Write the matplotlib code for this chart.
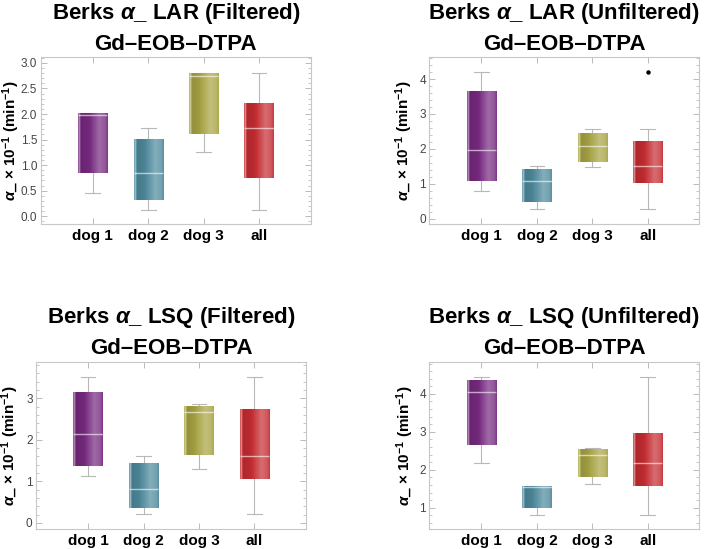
import numpy as np
import matplotlib as mpl
mpl.use('Agg')
from matplotlib import pyplot as plt
from matplotlib.ticker import MultipleLocator
from matplotlib.colors import to_rgb

plt.rcParams['font.family'] = ['Liberation Sans', 'DejaVu Sans']
plt.rcParams['mathtext.fontset'] = 'custom'
plt.rcParams['mathtext.rm'] = 'Liberation Sans:bold'
plt.rcParams['mathtext.it'] = 'Liberation Sans:bold:italic'
plt.rcParams['mathtext.bf'] = 'Liberation Sans:bold'

# categories and colours
groups = ['dog 1', 'dog 2', 'dog 3', 'all']
colors = ['#772a80', '#4f8a9c', '#a8a445', '#c52d32']

# box stats per group: [whisker low, q1, median, q3, whisker high]
lar_filtered = [[0.46, 0.84, 1.98, 2.01, 2.01],
                [0.13, 0.31, 0.84, 1.50, 1.72],
                [1.25, 1.61, 2.75, 2.80, 2.80],
                [0.13, 0.75, 1.72, 2.20, 2.81]]
lar_unfiltered = [[0.80, 1.08, 1.97, 3.64, 4.21],
                  [0.27, 0.47, 1.07, 1.40, 1.51],
                  [1.49, 1.63, 2.07, 2.45, 2.58],
                  [0.27, 1.01, 1.52, 2.19, 2.58]]
lar_unfiltered_fliers = [[], [], [], [4.20]]
lsq_filtered = [[1.12, 1.38, 2.13, 3.15, 3.50],
                [0.21, 0.36, 0.81, 1.42, 1.61],
                [1.29, 1.64, 2.66, 2.81, 2.85],
                [0.21, 1.05, 1.61, 2.71, 3.50]]
lsq_unfiltered = [[2.17, 2.64, 4.04, 4.35, 4.45],
                  [0.82, 1.00, 1.55, 1.57, 1.57],
                  [1.62, 1.81, 2.40, 2.53, 2.57],
                  [0.82, 1.56, 2.18, 2.94, 4.45]]

# title, stats, fliers, axes rect, ylim, major step, minor step, ylabel x
panels = [
    ('Berks $\\alpha$_ LAR (Filtered)', lar_filtered, None,
     [0.0577, 0.5914, 0.383, 0.3042], (-0.16, 3.11), 0.5, 0.1, -0.071),
    ('Berks $\\alpha$_ LAR (Unfiltered)', lar_unfiltered, lar_unfiltered_fliers,
     [0.609, 0.5914, 0.383, 0.3042], (-0.163, 4.625), 1.0, 0.2, -0.053),
    ('Berks $\\alpha$_ LSQ (Filtered)', lsq_filtered, None,
     [0.0511, 0.0359, 0.383, 0.3053], (-0.152, 3.88), 1.0, 0.2, -0.056),
    ('Berks $\\alpha$_ LSQ (Unfiltered)', lsq_unfiltered, None,
     [0.609, 0.0359, 0.383, 0.3053], (0.43, 4.85), 1.0, 0.2, -0.05),
]

# horizontal shading profile to fake the cylinder look
prof_t = [0, 0.04, 0.07, 0.10, 0.35, 0.72, 0.92, 1.0]
prof_m = [0.10, 0.55, 0.15, -0.12, -0.05, 0.30, 0.20, 0.05]


def shaded(color, n=80):
    base = np.array(to_rgb(color))
    m = np.interp(np.linspace(0, 1, n), prof_t, prof_m)
    rows = []
    for v in m:
        if v >= 0:
            rows.append(base + (1 - base) * v)
        else:
            rows.append(base * (1 + v))
    return np.clip(np.array(rows)[None, :, :], 0, 1)


fig = plt.figure(figsize=(7.05, 5.49), dpi=100)
frame_c = '#c8c8c8'
width = 0.53

for title, stats, fliers, rect, ylim, major, minor, lab_x in panels:
    ax = fig.add_axes(rect)
    pos = np.arange(1, len(groups) + 1)
    bstats = []
    for i, s in enumerate(stats):
        bstats.append(dict(whislo=s[0], q1=s[1], med=s[2], q3=s[3], whishi=s[4],
                           fliers=fliers[i] if fliers else []))
    ax.bxp(bstats, positions=pos, widths=width, patch_artist=True,
           showfliers=True,
           boxprops=dict(facecolor='none', edgecolor='none'),
           whiskerprops=dict(color='#b8b8b8', lw=0.8),
           capprops=dict(color='#b8b8b8', lw=0.8),
           medianprops=dict(color='white', lw=1.0, alpha=0.6, zorder=4),
           flierprops=dict(marker='o', markersize=2.2, markerfacecolor='black',
                           markeredgecolor='black'),
           capwidths=width * 0.5)
    for p, s, c in zip(pos, stats, colors):
        ax.imshow(shaded(c), extent=(p - width / 2, p + width / 2, s[1], s[3]),
                  aspect='auto', zorder=3, interpolation='bilinear')

    ax.set_xlim(0.06, 4.93)
    ax.set_ylim(*ylim)
    ax.set_xticks(pos)
    ax.set_xticklabels(groups, fontsize=11, fontweight='bold')
    ax.yaxis.set_major_locator(MultipleLocator(major))
    ax.yaxis.set_minor_locator(MultipleLocator(minor))
    if major < 1:
        ax.yaxis.set_major_formatter(mpl.ticker.FormatStrFormatter('%.1f'))
    else:
        ax.yaxis.set_major_formatter(mpl.ticker.FormatStrFormatter('%d'))
    ax.tick_params(which='both', direction='in', top=True, right=True, color='#b0b0b0')
    ax.tick_params(which='major', length=4, width=0.6)
    ax.tick_params(which='minor', length=2, width=0.5)
    ax.tick_params(axis='y', labelsize=8.5, labelcolor='#444444', pad=2.5)
    ax.tick_params(axis='x', pad=3.5)
    for sp in ax.spines.values():
        sp.set_color(frame_c)
        sp.set_linewidth(0.8)

    ax.set_ylabel('$\\alpha$_ × 10$^{-1}$ (min$^{-1}$)', fontsize=11, fontweight='bold')
    ax.yaxis.set_label_coords(lab_x, 0.5)

    ax.annotate(title, xy=(0.5, 1.0), xycoords='axes fraction', xytext=(0, 27.6),
                textcoords='offset points', ha='center', va='baseline',
                fontsize=16, fontweight='bold')
    ax.annotate('Gd–EOB–DTPA', xy=(0.5, 1.0), xycoords='axes fraction', xytext=(0, 5.3),
                textcoords='offset points', ha='center', va='baseline',
                fontsize=16, fontweight='bold')

plt.savefig('out.png', dpi=100)
